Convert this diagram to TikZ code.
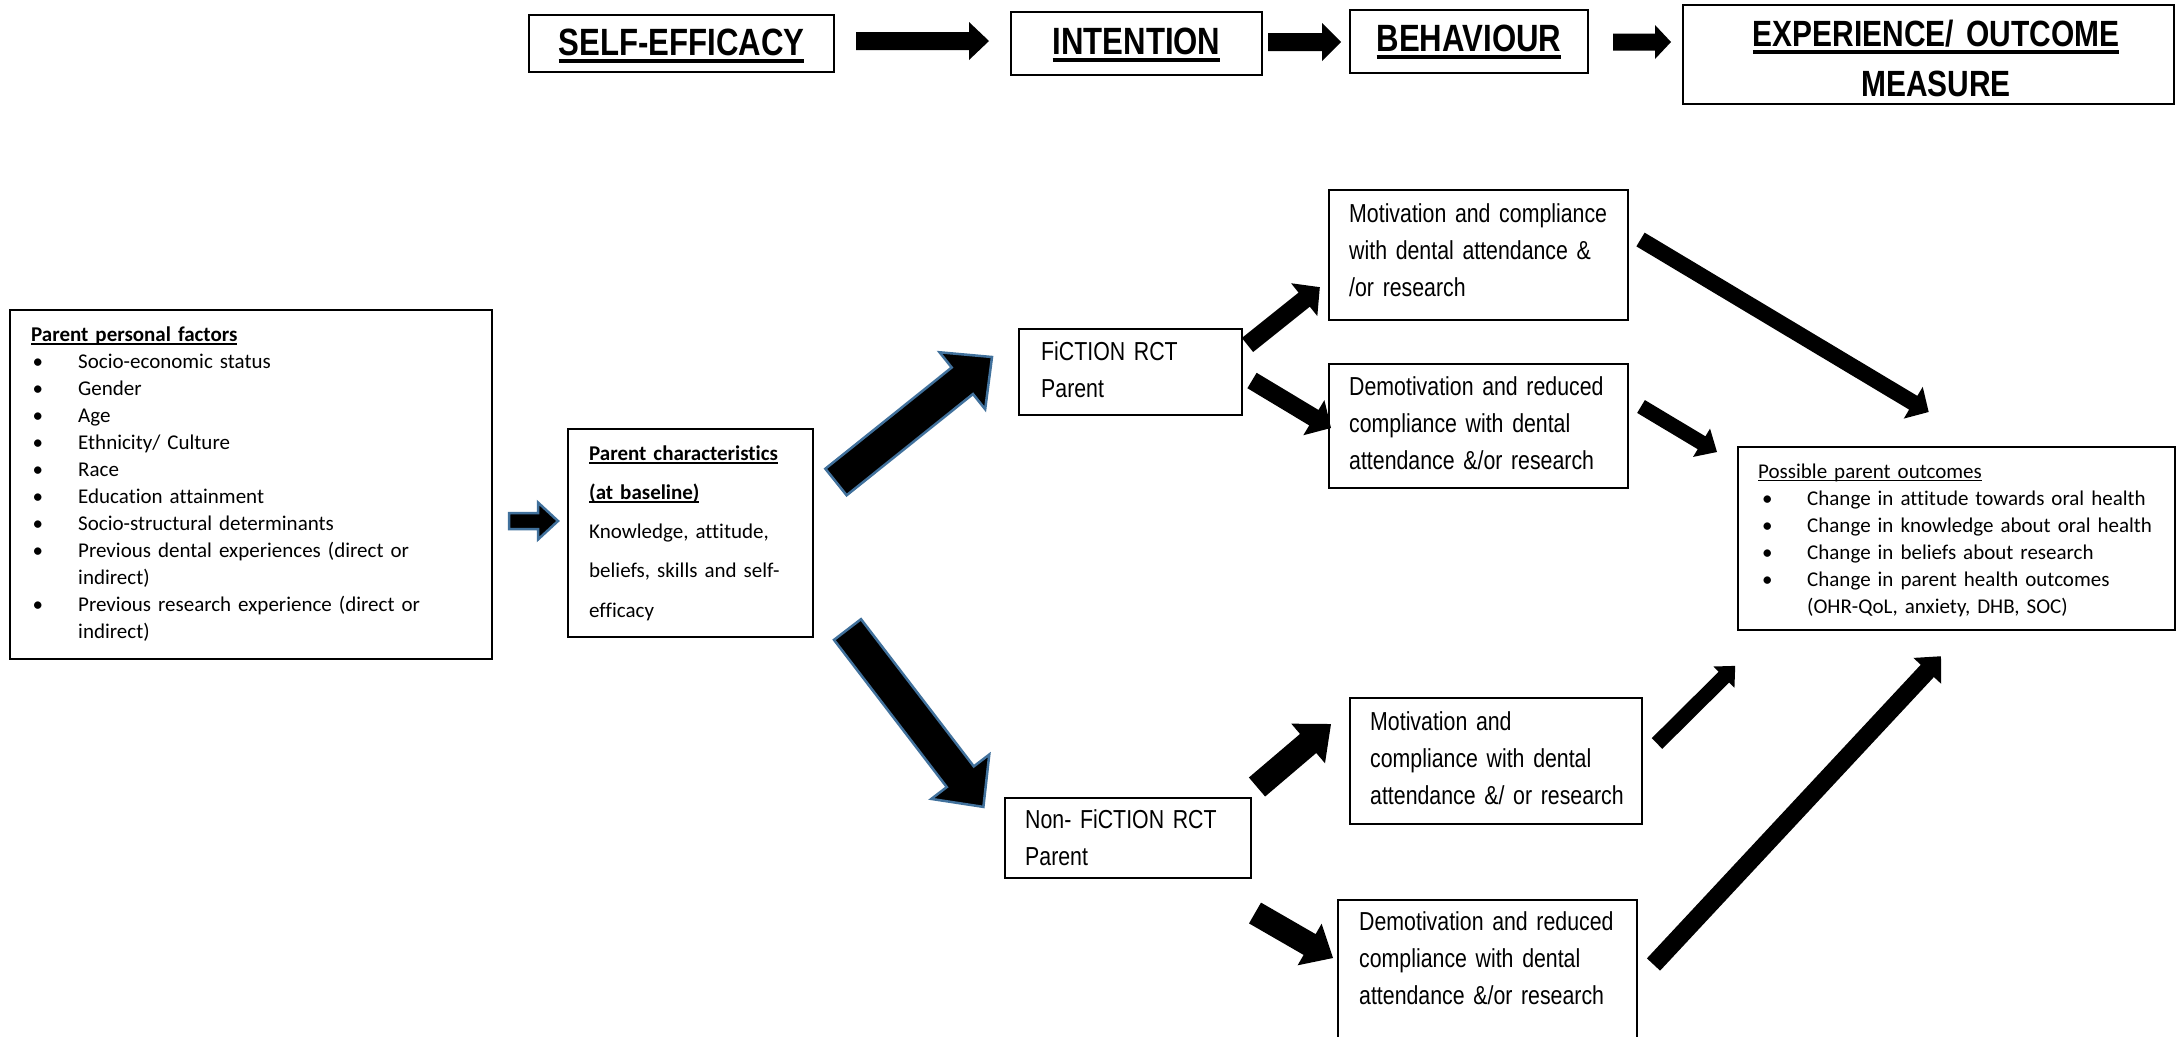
\documentclass[tikz,border=0pt]{standalone}
\usepackage{fontspec}
\setmainfont[Ligatures=NoCommon]{Carlito}
\newfontfamily\narrow[FakeStretch=0.82]{Liberation Sans}
\usetikzlibrary{fit}
\definecolor{arrowblue}{HTML}{41719C}
\newcommand\ulx[3]{\setbox0=\hbox{#3}\leavevmode\rlap{\rule[-#1]{\wd0}{#2}}\box0}
\newcommand\hul[1]{\ulx{7.5pt}{4pt}{#1}}
\newcommand\bul[2]{\makebox[#1][l]{\hspace{#2}\textbullet}}
\newcommand\blockarrow[6][]{%
  \pgfpointanchor{#2}{center}\pgfgetlastxy{\bax}{\bay}%
  \pgfpointanchor{#3}{center}\pgfgetlastxy{\bbx}{\bby}%
  \pgfmathsetmacro\baang{atan2((\bby)-(\bay),(\bbx)-(\bax))}%
  \pgfmathsetmacro\balen{veclen((\bbx)-(\bax),(\bby)-(\bay))}%
  \begin{scope}[shift={(\bax,\bay)},rotate=\baang]
    \fill[black,#1] (0,{#4/2}) -- ({\balen-#6},{#4/2}) -- ({\balen-#6},{#5/2}) -- (\balen,0)
      -- ({\balen-#6},{-#5/2}) -- ({\balen-#6},{-#4/2}) -- (0,{-#4/2}) -- cycle;
  \end{scope}}
\begin{document}
\begin{tikzpicture}[x=1pt,y=-1pt,
  box/.style={draw, line width=2pt, inner sep=0pt},
  head/.style={inner sep=0pt, font=\narrow\bfseries\fontsize{38}{50}\selectfont},
  cal/.style={inner sep=0pt, align=left, font=\fontsize{21}{27}\selectfont},
  calwide/.style={inner sep=0pt, align=left, font=\fontsize{21}{39.3}\selectfont},
  nar/.style={inner sep=0pt, align=left, font=\narrow\fontsize{26}{37}\selectfont},
  bluearrow/.style={draw=arrowblue, line width=2.5pt, line join=miter}]
\useasboundingbox (0,0) rectangle (2176,1036);

% top row
\node[box, fit={(529,15) (834,72)}] (se) {};
\node[head, anchor=base] (se-t) at (681.5,55) {\hul{SELF-EFFICACY}};
\node[box, fit={(1011,12) (1262,75)}] (in) {};
\node[head, anchor=base] (in-t) at (1136.5,54) {\hul{INTENTION}};
\node[box, fit={(1350,10) (1588,73)}] (be) {};
\node[head, anchor=base] (be-t) at (1469,51) {\hul{BEHAVIOUR}};
\node[box, fit={(1683,5) (2174,104)}] (ex) {};
\node[head, anchor=base, align=center, text width=480pt, font=\narrow\bfseries\fontsize{36.5}{50}\selectfont] (ex-t) at (1936,46) {\hul{EXPERIENCE/ OUTCOME}\\MEASURE};

% boxes
\node[box, fit={(10,310) (492,659)}] (ppf) {};
\node[cal, anchor=base west, text width=455pt] (ppf-t) at (31,341) {%
\ulx{3.5pt}{1.8pt}{\textbf{Parent personal factors}}\\
\bul{47pt}{1.5pt}Socio-economic status\\
\bul{47pt}{1.5pt}Gender\\
\bul{47pt}{1.5pt}Age\\
\bul{47pt}{1.5pt}Ethnicity/ Culture\\
\bul{47pt}{1.5pt}Race\\
\bul{47pt}{1.5pt}Education attainment\\
\bul{47pt}{1.5pt}Socio-structural determinants\\
\bul{47pt}{1.5pt}Previous dental experiences (direct or\\
\hspace*{47pt}indirect)\\
\bul{47pt}{1.5pt}Previous research experience (direct or\\
\hspace*{47pt}indirect)};

\node[box, fit={(568,429) (813,637)}] (pc) {};
\node[calwide, anchor=base west, text width=220pt] (pc-t) at (589,460) {%
\ulx{3.5pt}{1.8pt}{\textbf{Parent characteristics}}\\
\ulx{3.5pt}{1.8pt}{\textbf{(at baseline)}}\\
Knowledge, attitude,\\
beliefs, skills and self-\\
efficacy};

\node[box, fit={(1019,329) (1242,415)}] (fic) {};
\node[nar, anchor=base west, text width=200pt] (fic-t) at (1041,360) {FiCTION RCT\\Parent};
\node[box, fit={(1005,798) (1251,878)}] (non) {};
\node[nar, anchor=base west, text width=220pt] (non-t) at (1025,828) {Non- FiCTION RCT\\Parent};

\node[box, fit={(1329,190) (1628,320)}] (mt) {};
\node[nar, anchor=base west, text width=275pt] (mt-t) at (1349,222) {Motivation and compliance\\with dental attendance \&\\/or research};
\node[box, fit={(1329,364) (1628,488)}] (dt) {};
\node[nar, anchor=base west, text width=275pt] (dt-t) at (1349,395) {Demotivation and reduced\\compliance with dental\\attendance \&/or research};
\node[box, fit={(1350,698) (1642,824)}] (mb) {};
\node[nar, anchor=base west, text width=270pt] (mb-t) at (1370,730) {Motivation and\\compliance with dental\\attendance \&/ or research};
\node[box, fit={(1338,900) (1637,1040)}] (db) {};
\node[nar, anchor=base west, text width=275pt] (db-t) at (1359,930) {Demotivation and reduced\\compliance with dental\\attendance \&/or research};

\node[box, fit={(1738,447) (2175,630)}] (out) {};
\node[cal, anchor=base west, text width=410pt] (out-t) at (1758,478) {%
\ulx{3pt}{1.5pt}{Possible parent outcomes}\\
\bul{49pt}{4pt}Change in attitude towards oral health\\
\bul{49pt}{4pt}Change in knowledge about oral health\\
\bul{49pt}{4pt}Change in beliefs about research\\
\bul{49pt}{4pt}Change in parent health outcomes\\
\hspace*{49pt}(OHR-QoL, anxiety, DHB, SOC)};

% arrow end points
\coordinate (a1s) at (856,41);   \coordinate (a1e) at (989,41);
\coordinate (a2s) at (1268,42);  \coordinate (a2e) at (1341,42);
\coordinate (a3s) at (1613,42);  \coordinate (a3e) at (1671,42);
\coordinate (a4s) at (509,521);  \coordinate (a4e) at (558,521);
\coordinate (b1s) at (836,482);  \coordinate (b1e) at (992,357);
\coordinate (b2s) at (847.5,629.5); \coordinate (b2e) at (983.4,806.9);
\coordinate (c1s) at (1247.5,345); \coordinate (c1e) at (1320,287);
\coordinate (c2s) at (1252,380.5); \coordinate (c2e) at (1331,428);
\coordinate (c3s) at (1257,787);  \coordinate (c3e) at (1331,724);
\coordinate (c4s) at (1255,913);  \coordinate (c4e) at (1333,958);
\coordinate (d1s) at (1640.5,239.5); \coordinate (d1e) at (1928.7,412);
\coordinate (d2s) at (1641,406.5); \coordinate (d2e) at (1717,452);
\coordinate (d3s) at (1657,743.5); \coordinate (d3e) at (1735.4,665.7);
\coordinate (d4s) at (1653.5,964.5); \coordinate (d4e) at (1941,656.2);

\blockarrow{a1s}{a1e}{18}{38}{20}
\blockarrow{a2s}{a2e}{18}{38}{19}
\blockarrow{a3s}{a3e}{17}{34}{16}
\blockarrow[bluearrow]{a4s}{a4e}{16}{37}{20}
\blockarrow[bluearrow]{b1s}{b1e}{34}{73}{38}
\blockarrow[bluearrow]{b2s}{b2e}{34}{73}{38}
\blockarrow{c1s}{c1e}{18}{42}{20}
\blockarrow{c2s}{c2e}{18}{41}{20}
\blockarrow{c3s}{c3e}{25}{52}{30}
\blockarrow{c4s}{c4e}{24}{48}{27}
\blockarrow{d1s}{d1e}{16}{37}{18}
\blockarrow{d2s}{d2e}{15}{33}{18}
\blockarrow{d3s}{d3e}{15}{30}{16}
\blockarrow{d4s}{d4e}{18}{38}{20}
\end{tikzpicture}
\end{document}
